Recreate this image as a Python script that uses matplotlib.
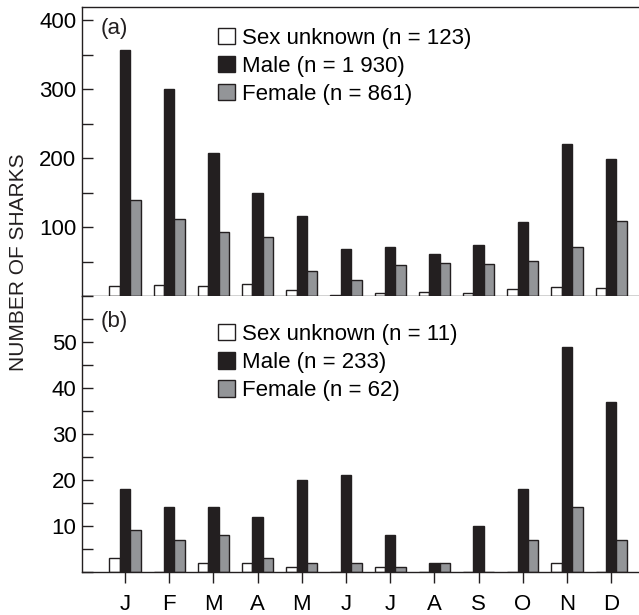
import numpy as np
import matplotlib
matplotlib.use("Agg")
import matplotlib.pyplot as plt
from matplotlib.ticker import MultipleLocator

plt.rcParams['font.family'] = ['Liberation Sans', 'DejaVu Sans']

months = ["J", "F", "M", "A", "M", "J", "J", "A", "S", "O", "N", "D"]

# panel (a)
unknown_a = [15, 16, 15, 17, 8, 2, 4, 6, 5, 10, 13, 12]
male_a = [357, 300, 208, 149, 116, 68, 71, 61, 74, 107, 220, 199]
female_a = [140, 112, 93, 86, 36, 23, 45, 48, 47, 51, 71, 109]
labels_a = ["Sex unknown (n = 123)", "Male (n = 1 930)", "Female (n = 861)"]

# panel (b)
unknown_b = [3, 0, 2, 2, 1, 0, 1, 0, 0, 0, 2, 0]
male_b = [18, 14, 14, 12, 20, 21, 8, 2, 10, 18, 49, 37]
female_b = [9, 7, 8, 3, 2, 2, 1, 2, 0, 7, 14, 7]
labels_b = ["Sex unknown (n = 11)", "Male (n = 233)", "Female (n = 62)"]

EDGE = "#231f20"
MALE = "#231f20"
FEMALE = "#939598"
FS = 16

W, H = 639, 615
fig = plt.figure(figsize=(W / 100, H / 100), dpi=100)


def px_axes(x0, y0, x1, y1):
    # pixel box (top-left origin) -> figure fraction
    return fig.add_axes([x0 / W, 1 - y1 / H, (x1 - x0) / W, (y1 - y0) / H])


ax_a = px_axes(82, 6.7, 639, 296)
ax_b = px_axes(82, 296, 639, 571.7)

x = np.arange(len(months))
bw = 0.235


def draw(ax, unk, male, fem, ymax, major, minor, tag, tag_y):
    h1 = ax.bar(x - bw, unk, bw, color="white", edgecolor=EDGE, linewidth=1.0)
    h2 = ax.bar(x, male, bw, color=MALE, edgecolor=EDGE, linewidth=1.0)
    h3 = ax.bar(x + bw, fem, bw, color=FEMALE, edgecolor=EDGE, linewidth=1.0)
    ax.set_xlim(-0.973, 11.63)
    ax.set_ylim(0, ymax)
    ax.set_xticks(x)
    ax.yaxis.set_major_locator(MultipleLocator(major))
    ax.yaxis.set_minor_locator(MultipleLocator(minor))
    ax.tick_params(axis="y", which="both", direction="in", length=8, width=1,
                   color=EDGE, labelsize=FS, pad=4)
    ax.tick_params(axis="x", direction="out", length=8, width=1, color=EDGE,
                   labelsize=FS, pad=8)
    ax.spines["right"].set_visible(False)
    for s in ["left", "bottom", "top"]:
        ax.spines[s].set_linewidth(1.0)
        ax.spines[s].set_color(EDGE)
    ax.set_yticks([t for t in ax.get_yticks() if 0 < t < ymax])
    ax.text(0.034, tag_y, tag, transform=ax.transAxes, fontsize=FS,
            va="center", ha="left", color=EDGE)
    return [h1, h2, h3]


leg_kw = dict(loc="upper left", frameon=False, fontsize=FS, handlelength=0.77,
              handleheight=0.77, handletextpad=0.3, labelspacing=0.32,
              borderpad=0, borderaxespad=0)

hs = draw(ax_a, unknown_a, male_a, female_a, 420, 100, 50, "(a)", 0.926)
ax_a.set_xticklabels([])
ax_a.legend(hs, labels_a, bbox_to_anchor=(0.244, 0.928), **leg_kw)

hs = draw(ax_b, unknown_b, male_b, female_b, 60, 10, 5, "(b)", 0.906)
ax_b.spines["top"].set_visible(False)
ax_b.set_xticklabels(months)
ax_b.legend(hs, labels_b, bbox_to_anchor=(0.244, 0.899), **leg_kw)

fig.text(19 / W, 1 - 262 / H, "NUMBER OF SHARKS", rotation=90, fontsize=15,
         ha="center", va="center", color=EDGE)

fig.savefig("out.png", dpi=100)
